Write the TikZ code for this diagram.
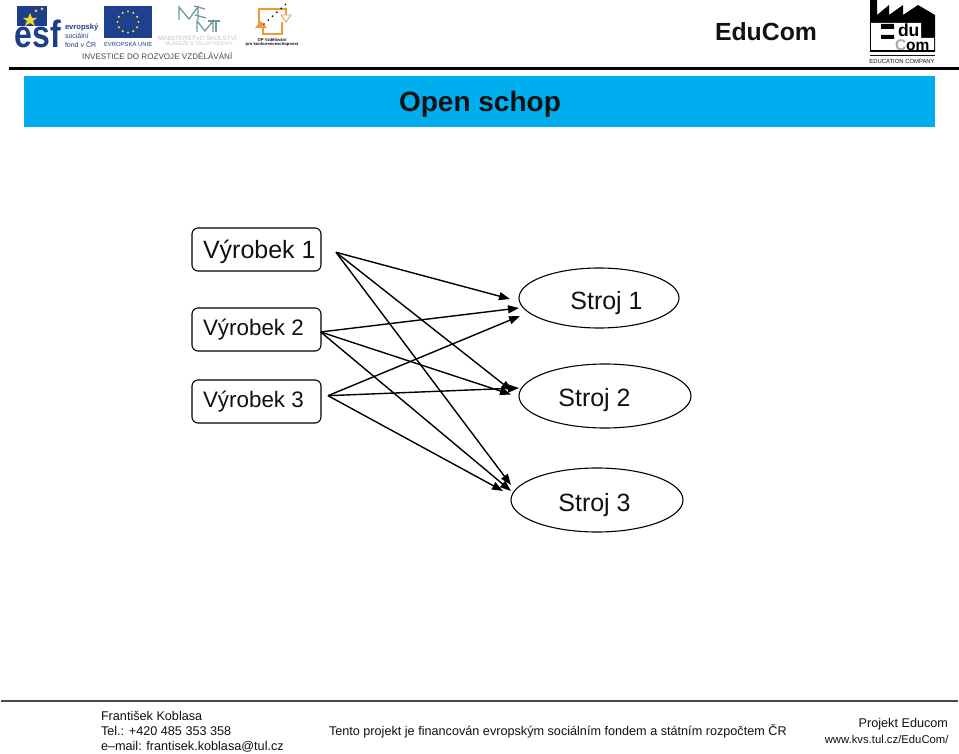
\documentclass[tikz,border=0pt]{standalone}
\usepackage{fontspec}
\setmainfont{Liberation Sans}
\setsansfont{Liberation Sans}
\usepackage{xcolor}
\usetikzlibrary{arrows.meta,shapes.geometric,shapes.misc}
\definecolor{band}{HTML}{00AEEF}
\definecolor{ink}{HTML}{111111}
\definecolor{footline}{HTML}{4A4A4A}
\definecolor{eublue}{HTML}{1F3F8F}
\definecolor{eugold}{HTML}{F2D530}
\definecolor{esfblue}{HTML}{1D3E8C}
\definecolor{msmt}{HTML}{6F9A9C}
\definecolor{msmtii}{HTML}{BFC6C6}
\definecolor{oporange}{HTML}{EE9A3A}
\definecolor{logogray}{HTML}{A8A8A8}
\newcommand{\fsz}[1]{\fontsize{#1}{#1}\selectfont}
\tikzset{
  txt/.style      = {font=\fsz{12.65}\sffamily\color{ink}, inner sep=0pt, outer sep=0pt},
  txtw/.style     = {txt, anchor=west},
  product/.style  = {draw=black, fill=white, line width=1.1pt, rounded corners=6pt, inner sep=0pt, minimum width=129pt, minimum height=43pt},
  machine/.style  = {draw=black, fill=white, ellipse, line width=1.1pt, inner sep=0pt},
  lab/.style      = {font=\fsz{25}\sffamily\color{ink}, inner sep=0pt, outer sep=0pt},
  labsm/.style    = {font=\fsz{22.4}\sffamily\color{ink}, inner sep=0pt, outer sep=0pt},
  flow/.style     = {-{Triangle[length=11pt,width=8pt]}, draw=black, line width=1.4pt},
  logotxt/.style  = {inner sep=0pt, outer sep=0pt, anchor=west},
}

\begin{document}
\begin{tikzpicture}[x=1pt,y=-1pt]
\path[use as bounding box] (0,0) rectangle (959,754);
\fill[white] (0,0) rectangle (959,754);

% ---- header -------------------------------------------------------------
\fill[black] (9,67) rectangle (959,70);
\fill[band] (24,76) rectangle (935,127);
\node[font=\fsz{28}\sffamily\bfseries\color{ink}, inner sep=0pt] (title) at (480,104.5) {Open schop};
\node[font=\fsz{24.8}\sffamily\bfseries\color{ink}, inner sep=0pt] (educom) at (766,31.5) {EduCom};

% ---- esf logo -----------------------------------------------------------
\fill[esfblue] (17,6) rectangle (47,31);
\fill[eugold] (30,13) -- (32,18) -- (37,18) -- (33,21) -- (35,26) -- (30,23) -- (25,26) -- (27,21) -- (23,18) -- (28,18) -- cycle;
\foreach \x/\y in {36/11,42/9}{\fill[eugold] (\x,\y) circle (1.5);}
\fill[white] (15,26) rectangle (47,33);
\node[logotxt, font=\fsz{38}\sffamily\bfseries\color{esfblue}] (esf) at (15,34) {\scalebox{0.84}[1]{esf}};
\node[logotxt, font=\fsz{7.6}\sffamily\bfseries\color{esfblue}] (esfa) at (65,28) {evropský};
\node[logotxt, font=\fsz{7}\sffamily\color{esfblue}] (esfb) at (65,36) {sociální};
\node[logotxt, font=\fsz{7}\sffamily\color{esfblue}] (esfc) at (65,44) {fond v ČR};

% ---- eu flag ------------------------------------------------------------
\fill[eublue] (104,6) rectangle (152,38);
\foreach \a in {0,30,...,330}{\fill[eugold] (128,22)+(\a:10.5) circle (1.2);}
\node[logotxt, font=\fsz{5.9}\sffamily\color{esfblue}] (eu) at (104,43.5) {EVROPSKÁ UNIE};

% ---- msmt logo ----------------------------------------------------------
\draw[msmt, line width=1.3pt] (179,20) -- (179,7) -- (189,19) -- (198,7) -- (198,20);
\draw[msmt, line width=1.3pt] (205,9) -- (194,6) (195,15) -- (206,18);
\draw[msmt, line width=1.3pt] (197,32) -- (197,21) -- (205,31) -- (213,21) -- (213,32);
\draw[msmt, line width=1.3pt] (208,21) -- (220,21) (216,21) -- (216,32);
\node[font=\fsz{6.2}\sffamily\color{msmtii}, inner sep=0pt] (mina) at (198,38.5) {MINISTERSTVO ŠKOLSTVÍ,};
\node[font=\fsz{5}\sffamily\color{msmtii}, inner sep=0pt] (minb) at (199,43.5) {MLÁDEŽE A TĚLOVÝCHOVY};

% ---- op logo ------------------------------------------------------------
\draw[oporange, line width=1.2pt] (259,28) -- (259,9) -- (286,9) -- (286,20) (263,28) -- (263,34) -- (282,34) -- (282,22);
\fill[oporange] (255,28) -- (261,21) -- (267,28) -- cycle;
\draw[oporange, fill=white, line width=0.8pt] (281,15) -- (291,15) -- (286,22) -- cycle;
\foreach \i in {0,1,...,5}{\fill[black] (264+\i*4.3,24-\i*3.9) circle (0.95);}
\node[font=\fsz{4.2}\sffamily\bfseries\color{ink}, inner sep=0pt] (opa) at (272,40) {OP Vzdělávání};
\node[font=\fsz{4.2}\sffamily\bfseries\color{ink}, inner sep=0pt] (opb) at (272,44.5) {pro konkurenceschopnost};

\node[logotxt, font=\fsz{8.1}\sffamily\color{footline}] (invest) at (82,56.5) {INVESTICE DO ROZVOJE VZDĚLÁVÁNÍ};

% ---- educom logo --------------------------------------------------------
\fill[black] (870,0) -- (877,0) -- (877,15) -- (889,5) -- (889,15) -- (903,5) -- (903,15) -- (918,5) -- (935,15) -- (935,52) -- (870,52) -- cycle;
\fill[white] (871,23) rectangle (921,38) (871,38) rectangle (934,50);
\fill[black] (881,24) rectangle (894,29) (881,35) rectangle (894,39);
\node[logotxt, font=\fsz{17.5}\sffamily\bfseries\color{black}] (du) at (898,30) {du};
\node[logotxt, font=\fsz{15.5}\sffamily\bfseries] (com) at (895,45) {\textcolor{logogray}{C}om};
\draw[ink, line width=0.5pt] (870,55.5) -- (935,55.5);
\node[font=\fsz{5.9}\sffamily\color{ink}, inner sep=0pt] (comp) at (902,61) {EDUCATION COMPANY};

% ---- products and machines ----------------------------------------------
\node[product] (vyra) at (256.5,249.5) {};
\node[product] (vyrb) at (256.5,329.5) {};
\node[product] (vyrc) at (256.5,401.5) {};
\node[lab, anchor=west] (vyrat) at (203,251.5) {Výrobek 1};
\node[labsm, anchor=west] (vyrbt) at (203,330) {Výrobek 2};
\node[labsm, anchor=west] (vyrct) at (203,401.5) {Výrobek 3};

\node[machine, minimum width=160pt, minimum height=60pt] (stra) at (599,298) {};
\node[machine, minimum width=172pt, minimum height=64pt] (strb) at (605,396) {};
\node[machine, minimum width=172pt, minimum height=64pt] (strc) at (597,500) {};
\node[lab] (strat) at (606.5,303) {Stroj 1};
\node[lab] (strbt) at (594.5,400.5) {Stroj 2};
\node[lab] (strct) at (594.5,505.5) {Stroj 3};

% ---- free ends of the arrows --------------------------------------------
\coordinate (oa) at (336,252.3);
\coordinate (ob) at (320.7,332);
\coordinate (oc) at (328,395.7);
\coordinate (aa) at (510,299);
\coordinate (ab) at (519,308);
\coordinate (ac) at (520,316);
\coordinate (ba) at (512,391);
\coordinate (bb) at (511,394.5);
\coordinate (bc) at (519,388);
\coordinate (ca) at (511,485);
\coordinate (cb) at (511,491);
\coordinate (cc) at (503,491);

\foreach \src/\dst in {oa/aa,oa/ba,oa/ca,ob/ab,ob/bb,ob/cb,oc/ac,oc/bc,oc/cc}{
  \draw[flow] (\src) -- (\dst);
}

% ---- footer -------------------------------------------------------------
\fill[footline] (1,699.5) rectangle (958,701.5);
\node[txtw] (name) at (101,716) {František Koblasa};
\node[txtw] (tel) at (101,731) {Tel.: +420 485 353 358};
\node[txtw] (mail) at (101,746.5) {e--mail: frantisek.koblasa@tul.cz};
\node[txtw] (proj) at (329,731) {Tento projekt je financován evropským sociálním fondem a státním rozpočtem ČR};
\node[txt, anchor=east] (edu) at (948,724) {Projekt Educom};
\node[txt, anchor=east, font=\fsz{11.3}\sffamily\color{ink}] (web) at (948.5,739) {www.kvs.tul.cz/EduCom/};
\end{tikzpicture}
\end{document}
